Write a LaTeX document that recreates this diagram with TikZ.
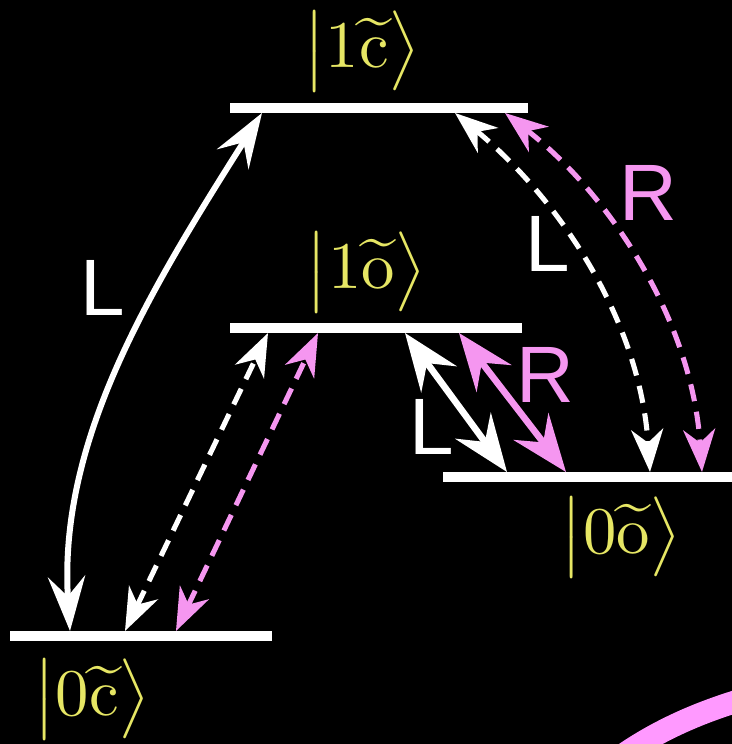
\documentclass[tikz,border=0pt]{standalone}
\usepackage{amsmath}
\usepackage{fontspec}
\newfontfamily\lrfont{Liberation Sans}
\usetikzlibrary{arrows.meta}
\definecolor{ketyellow}{RGB}{230,230,100}
\definecolor{lpink}{RGB}{245,150,240}
\definecolor{arcpink}{RGB}{255,153,255}
\tikzset{
  level/.style={draw=white, line width=7.5pt},
  ket/.style={text=ketyellow, scale=5, inner sep=0pt},
  pol/.style={font=\lrfont\fontsize{60}{60}\selectfont, inner sep=0pt},
  curvearr/.style={line width=4.5pt,
    {Stealth[length=41pt,width=28pt,inset=15pt]}-{Stealth[length=41pt,width=28pt,inset=15pt]}},
  diagarr/.style={line width=5pt,
    {Stealth[length=43pt,width=33pt,inset=15pt]}-{Stealth[length=43pt,width=33pt,inset=15pt]}},
  dasharr/.style={line width=3.8pt, dash pattern=on 13pt off 8pt,
    {Stealth[length=32pt,width=24pt,inset=10pt]}-{Stealth[length=32pt,width=24pt,inset=10pt]}},
}
\begin{document}
\begin{tikzpicture}[x=0.75pt,y=-0.75pt]
\fill[black] (0,0) rectangle (732,744);
\useasboundingbox (0,0) rectangle (732,744);

% levels
\draw[level] (230,108) -- (528,108);
\draw[level] (230,328) -- (522,328);
\draw[level] (443,477) -- (732,477);
\draw[level] (10,636) -- (272,636);

% kets
\node[ket] (k1c) at (362,51) {$\bigl|1\widetilde{\mathrm{c}}\bigr\rangle$};
\node[ket] (k1o) at (366,272) {$\bigl|1\widetilde{\mathrm{o}}\bigr\rangle$};
\node[ket] (k0o) at (621,537) {$\bigl|0\widetilde{\mathrm{o}}\bigr\rangle$};
\node[ket] (k0c) at (92,699) {$\bigl|0\widetilde{\mathrm{c}}\bigr\rangle$};

% endpoints
\coordinate (a0) at (70,631);   \coordinate (a1) at (262,113);
\coordinate (b0) at (125,631);  \coordinate (b1) at (268,333);
\coordinate (p0) at (176,631);  \coordinate (p1) at (318,333);
\coordinate (d0) at (405,333);  \coordinate (d1) at (507,472);
\coordinate (e0) at (459,333);  \coordinate (e1) at (566,472);
\coordinate (f0) at (455,113);  \coordinate (f1) at (650,472);
\coordinate (g0) at (505,113);  \coordinate (g1) at (702,472);

% arrows
\draw[white, curvearr] (a0) .. controls (58,440) and (150,290) .. (a1);
\draw[white, dasharr] (b0) -- (b1);
\draw[lpink, dasharr] (p0) -- (p1);
\draw[white, diagarr] (d0) -- (d1);
\draw[lpink, diagarr] (e0) -- (e1);
\draw[white, dasharr] (f0) .. controls (560,200) and (640,320) .. (f1);
\draw[lpink, dasharr] (g0) .. controls (610,195) and (692,320) .. (g1);

% polarisation labels
\node[pol, white] (lA) at (103,288) {L};
\node[pol, white] (lB) at (548,244) {L};
\node[pol, white] (lC) at (432,427) {L};
\node[pol, lpink] (rA) at (648,193) {R};
\node[pol, lpink] (rB) at (545,375) {R};

% pink arc at corner
\begin{scope}
\clip (0,0) rectangle (732,744);
\draw[arcpink, line width=17pt] (600,772) .. controls (640,740) and (690,712) .. (770,692);
\end{scope}
\end{tikzpicture}
\end{document}
